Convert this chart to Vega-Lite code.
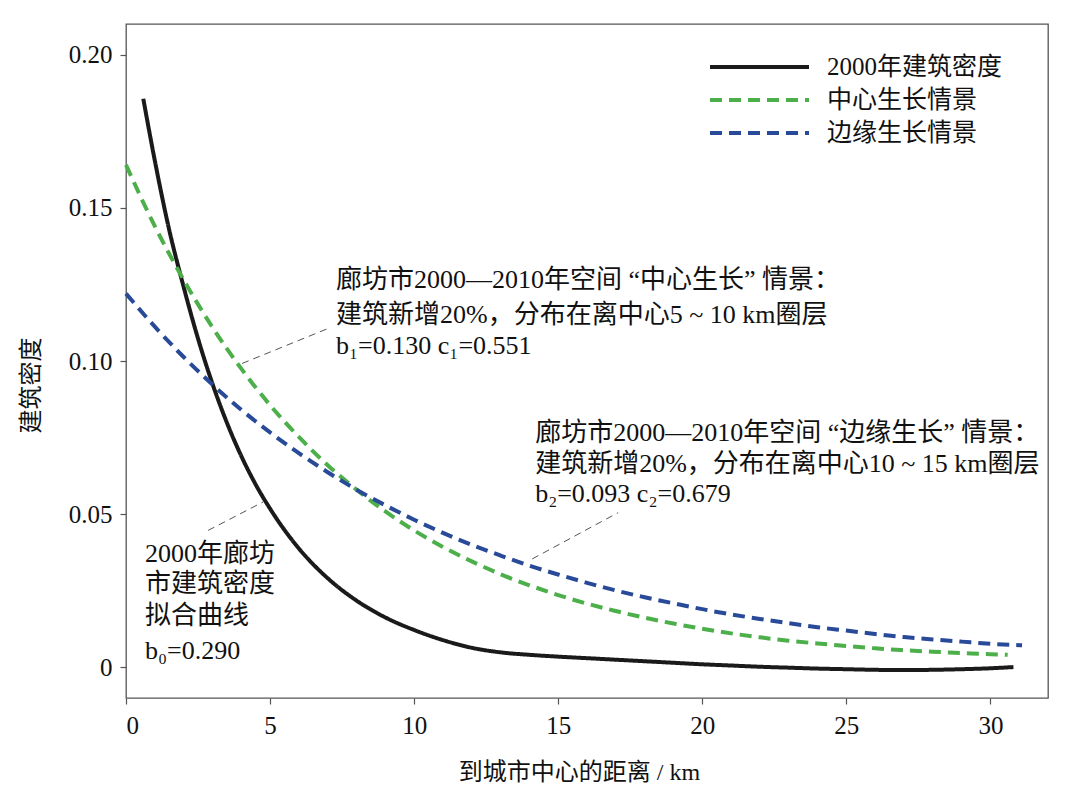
{
  "$schema": "https://vega.github.io/schema/vega-lite/v6.json",
  "width": 922,
  "height": 674,
  "autosize": "none",
  "padding": {"left": 126, "top": 24, "right": 32, "bottom": 96},
  "background": "white",
  "config": {
    "font": "'Liberation Serif', 'Noto Sans CJK SC'",
    "view": {"stroke": "#555", "strokeWidth": 1.3},
    "axis": {"grid": false, "domain": false, "tickColor": "#555", "tickSize": 6, "tickWidth": 1.2,
             "labelFont": "'Liberation Serif', 'Noto Sans CJK SC'", "labelFontSize": 25, "labelColor": "#111",
             "titleFont": "'Liberation Serif', 'Noto Sans CJK SC'", "titleFontSize": 24, "titleFontWeight": "normal", "titleColor": "#111"}
  },
  "datasets": {
    "curves": [
      {"series": "2000年建筑密度", "km": 0.6, "density": 0.1856},
      {"series": "2000年建筑密度", "km": 1.0, "density": 0.1654},
      {"series": "2000年建筑密度", "km": 1.5, "density": 0.1428},
      {"series": "2000年建筑密度", "km": 2.0, "density": 0.1242},
      {"series": "2000年建筑密度", "km": 2.5, "density": 0.1073},
      {"series": "2000年建筑密度", "km": 3.0, "density": 0.0926},
      {"series": "2000年建筑密度", "km": 3.5, "density": 0.0799},
      {"series": "2000年建筑密度", "km": 4.0, "density": 0.0690},
      {"series": "2000年建筑密度", "km": 4.5, "density": 0.0597},
      {"series": "2000年建筑密度", "km": 5.0, "density": 0.0518},
      {"series": "2000年建筑密度", "km": 6.0, "density": 0.0388},
      {"series": "2000年建筑密度", "km": 7.0, "density": 0.0291},
      {"series": "2000年建筑密度", "km": 8.0, "density": 0.0218},
      {"series": "2000年建筑密度", "km": 9.0, "density": 0.0163},
      {"series": "2000年建筑密度", "km": 10.0, "density": 0.0122},
      {"series": "2000年建筑密度", "km": 11.0, "density": 0.0089},
      {"series": "2000年建筑密度", "km": 12.0, "density": 0.0064},
      {"series": "2000年建筑密度", "km": 13.0, "density": 0.0049},
      {"series": "2000年建筑密度", "km": 14.0, "density": 0.0041},
      {"series": "2000年建筑密度", "km": 15.0, "density": 0.0035},
      {"series": "2000年建筑密度", "km": 16.0, "density": 0.0030},
      {"series": "2000年建筑密度", "km": 17.0, "density": 0.0025},
      {"series": "2000年建筑密度", "km": 18.0, "density": 0.0020},
      {"series": "2000年建筑密度", "km": 19.0, "density": 0.0015},
      {"series": "2000年建筑密度", "km": 20.0, "density": 0.0010},
      {"series": "2000年建筑密度", "km": 21.0, "density": 0.0006},
      {"series": "2000年建筑密度", "km": 22.0, "density": 0.0002},
      {"series": "2000年建筑密度", "km": 23.0, "density": -0.0001},
      {"series": "2000年建筑密度", "km": 24.0, "density": -0.0004},
      {"series": "2000年建筑密度", "km": 25.0, "density": -0.0006},
      {"series": "2000年建筑密度", "km": 26.0, "density": -0.0008},
      {"series": "2000年建筑密度", "km": 27.0, "density": -0.0009},
      {"series": "2000年建筑密度", "km": 28.0, "density": -0.0008},
      {"series": "2000年建筑密度", "km": 29.0, "density": -0.0006},
      {"series": "2000年建筑密度", "km": 30.0, "density": -0.0003},
      {"series": "2000年建筑密度", "km": 30.8, "density": 0.0001},
      {"series": "中心生长情景", "km": 0, "density": 0.1640},
      {"series": "中心生长情景", "km": 1, "density": 0.1440},
      {"series": "中心生长情景", "km": 2, "density": 0.1265},
      {"series": "中心生长情景", "km": 3, "density": 0.1110},
      {"series": "中心生长情景", "km": 4, "density": 0.0975},
      {"series": "中心生长情景", "km": 5, "density": 0.0856},
      {"series": "中心生长情景", "km": 6, "density": 0.0752},
      {"series": "中心生长情景", "km": 7, "density": 0.0660},
      {"series": "中心生长情景", "km": 8, "density": 0.0580},
      {"series": "中心生长情景", "km": 9, "density": 0.0509},
      {"series": "中心生长情景", "km": 10, "density": 0.0447},
      {"series": "中心生长情景", "km": 11, "density": 0.0393},
      {"series": "中心生长情景", "km": 12, "density": 0.0346},
      {"series": "中心生长情景", "km": 13, "density": 0.0304},
      {"series": "中心生长情景", "km": 14, "density": 0.0268},
      {"series": "中心生长情景", "km": 15, "density": 0.0236},
      {"series": "中心生长情景", "km": 16, "density": 0.0208},
      {"series": "中心生长情景", "km": 17, "density": 0.0184},
      {"series": "中心生长情景", "km": 18, "density": 0.0162},
      {"series": "中心生长情景", "km": 19, "density": 0.0143},
      {"series": "中心生长情景", "km": 20, "density": 0.0126},
      {"series": "中心生长情景", "km": 21, "density": 0.0111},
      {"series": "中心生长情景", "km": 22, "density": 0.0098},
      {"series": "中心生长情景", "km": 23, "density": 0.0087},
      {"series": "中心生长情景", "km": 24, "density": 0.0078},
      {"series": "中心生长情景", "km": 25, "density": 0.0070},
      {"series": "中心生长情景", "km": 26, "density": 0.0062},
      {"series": "中心生长情景", "km": 27, "density": 0.0056},
      {"series": "中心生长情景", "km": 28, "density": 0.0051},
      {"series": "中心生长情景", "km": 29, "density": 0.0047},
      {"series": "中心生长情景", "km": 30, "density": 0.0043},
      {"series": "中心生长情景", "km": 30.6, "density": 0.0041},
      {"series": "边缘生长情景", "km": 0, "density": 0.1220},
      {"series": "边缘生长情景", "km": 1, "density": 0.1112},
      {"series": "边缘生长情景", "km": 2, "density": 0.1013},
      {"series": "边缘生长情景", "km": 3, "density": 0.0923},
      {"series": "边缘生长情景", "km": 4, "density": 0.0841},
      {"series": "边缘生长情景", "km": 5, "density": 0.0767},
      {"series": "边缘生长情景", "km": 6, "density": 0.0699},
      {"series": "边缘生长情景", "km": 7, "density": 0.0637},
      {"series": "边缘生长情景", "km": 8, "density": 0.0580},
      {"series": "边缘生长情景", "km": 9, "density": 0.0529},
      {"series": "边缘生长情景", "km": 10, "density": 0.0482},
      {"series": "边缘生长情景", "km": 11, "density": 0.0439},
      {"series": "边缘生长情景", "km": 12, "density": 0.0400},
      {"series": "边缘生长情景", "km": 13, "density": 0.0365},
      {"series": "边缘生长情景", "km": 14, "density": 0.0332},
      {"series": "边缘生长情景", "km": 15, "density": 0.0303},
      {"series": "边缘生长情景", "km": 16, "density": 0.0276},
      {"series": "边缘生长情景", "km": 17, "density": 0.0251},
      {"series": "边缘生长情景", "km": 18, "density": 0.0229},
      {"series": "边缘生长情景", "km": 19, "density": 0.0209},
      {"series": "边缘生长情景", "km": 20, "density": 0.0190},
      {"series": "边缘生长情景", "km": 21, "density": 0.0173},
      {"series": "边缘生长情景", "km": 22, "density": 0.0158},
      {"series": "边缘生长情景", "km": 23, "density": 0.0144},
      {"series": "边缘生长情景", "km": 24, "density": 0.0131},
      {"series": "边缘生长情景", "km": 25, "density": 0.0120},
      {"series": "边缘生长情景", "km": 26, "density": 0.0109},
      {"series": "边缘生长情景", "km": 27, "density": 0.0099},
      {"series": "边缘生长情景", "km": 28, "density": 0.0091},
      {"series": "边缘生长情景", "km": 29, "density": 0.0084},
      {"series": "边缘生长情景", "km": 30, "density": 0.0077},
      {"series": "边缘生长情景", "km": 31.1, "density": 0.0072}
    ],
    "leaders": [
      {"x1": 4.03, "y1": 0.0992, "x2": 7.01, "y2": 0.1106},
      {"x1": 14.10, "y1": 0.0354, "x2": 17.08, "y2": 0.0505},
      {"x1": 2.85, "y1": 0.0447, "x2": 4.76, "y2": 0.0540}
    ],
    "notes": [
      {"km": 7.29, "density": 0.1263, "label": "廊坊市2000—2010年空间 “中心生长” 情景："},
      {"km": 7.29, "density": 0.1149, "label": "建筑新增20%，分布在离中心5 ~ 10 km圈层"},
      {"km": 7.29, "density": 0.1048, "label": "b₁=0.130  c₁=0.551"},
      {"km": 14.2, "density": 0.0766, "label": "廊坊市2000—2010年空间 “边缘生长” 情景："},
      {"km": 14.2, "density": 0.0665, "label": "建筑新增20%，分布在离中心10 ~ 15 km圈层"},
      {"km": 14.2, "density": 0.0567, "label": "b₂=0.093  c₂=0.679"},
      {"km": 0.66, "density": 0.0370, "label": "2000年廊坊"},
      {"km": 0.66, "density": 0.0272, "label": "市建筑密度"},
      {"km": 0.66, "density": 0.0167, "label": "拟合曲线"},
      {"km": 0.66, "density": 0.0053, "label": "b₀=0.290"}
    ]
  },
  "layer": [
    {
      "data": {"name": "curves"},
      "mark": {"type": "line", "strokeWidth": 4, "interpolate": "monotone", "strokeCap": "butt"},
      "encoding": {
        "x": {"field": "km", "type": "quantitative",
              "scale": {"domain": [0, 32], "nice": false, "zero": false},
              "axis": {"values": [0, 5, 10, 15, 20, 25, 30], "title": "到城市中心的距离 / km",
                       "labelPadding": 9, "titleX": 453, "titleY": 74, "titleAlign": "center", "titleBaseline": "middle"}},
        "y": {"field": "density", "type": "quantitative",
              "scale": {"domain": [-0.01, 0.21], "nice": false, "zero": false},
              "axis": {"values": [0, 0.05, 0.1, 0.15, 0.2], "title": "建筑密度",
                       "labelExpr": "datum.value == 0 ? '0' : format(datum.value, '.2f')",
                       "labelPadding": 8, "titleX": -95, "titleY": 361, "titleAlign": "center", "titleBaseline": "middle", "titleAngle": -90}},
        "color": {"field": "series", "type": "nominal",
                  "scale": {"domain": ["2000年建筑密度", "中心生长情景", "边缘生长情景"], "range": ["#1a1a1a", "#4daf4a", "#284a98"]},
                  "legend": {"title": null, "orient": "none", "legendX": 613.5, "legendY": 23, "padding": 0,
                             "symbolType": "M-2.75,0H2.75", "symbolSize": 1296, "symbolStrokeWidth": 4,
                             "labelOffset": 47.5, "labelFontSize": 25, "labelColor": "#111", "rowPadding": 0, "labelLimit": 0,
                             "labelFont": "'Liberation Serif', 'Noto Sans CJK SC'"}},
        "strokeDash": {"field": "series", "type": "nominal",
                       "scale": {"domain": ["2000年建筑密度", "中心生长情景", "边缘生长情景"], "range": [[1, 0], [12, 7], [12, 7]]},
                       "legend": {"title": null, "orient": "none", "legendX": 613.5, "legendY": 23, "padding": 0,
                                  "symbolType": "M-2.75,0H2.75", "symbolSize": 1296, "symbolStrokeWidth": 4,
                                  "labelOffset": 47.5, "labelFontSize": 25, "labelColor": "#111", "rowPadding": 0, "labelLimit": 0,
                                  "labelFont": "'Liberation Serif', 'Noto Sans CJK SC'"}}
      }
    },
    {
      "data": {"name": "leaders"},
      "mark": {"type": "rule", "stroke": "#555", "strokeWidth": 1, "strokeDash": [7, 5]},
      "encoding": {
        "x": {"field": "x1", "type": "quantitative"},
        "y": {"field": "y1", "type": "quantitative"},
        "x2": {"field": "x2"},
        "y2": {"field": "y2"}
      }
    },
    {
      "data": {"name": "notes"},
      "mark": {"type": "text", "align": "left", "baseline": "middle", "fontSize": 26, "color": "#111",
               "font": "'Liberation Serif', 'Noto Sans CJK SC'"},
      "encoding": {
        "x": {"field": "km", "type": "quantitative"},
        "y": {"field": "density", "type": "quantitative"},
        "text": {"field": "label"}
      }
    }
  ]
}
